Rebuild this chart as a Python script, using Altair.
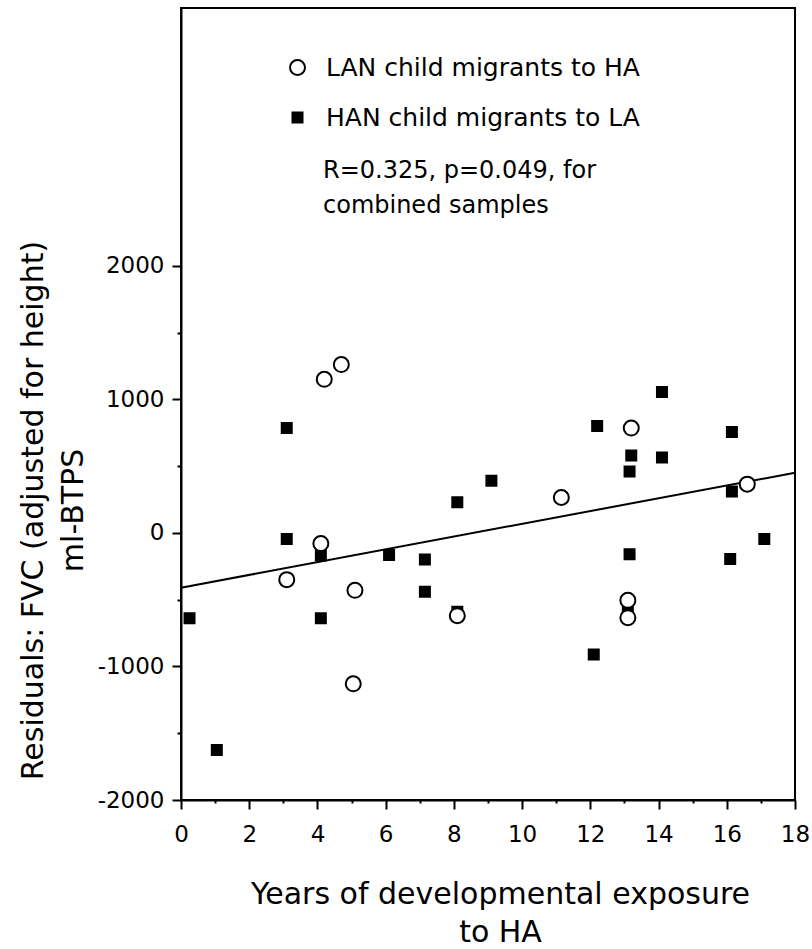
import altair as alt
import pandas as pd

# ---- data ----
group_names = ["LAN child migrants to HA", "HAN child migrants to LA"]

lan_x = [4.2, 4.7, 4.1, 3.1, 5.1, 8.1, 5.05, 11.15, 13.2, 16.6, 13.1, 13.1]
lan_y = [1150, 1260, -80, -350, -430, -620, -1130, 265, 785, 365, -505, -635]

han_x = [3.1, 3.1, 4.1, 6.1, 7.15, 8.1, 9.1, 14.1, 12.2, 16.15, 13.2, 14.1,
         13.15, 16.15, 17.1, 13.15, 16.1, 13.1, 8.1, 7.15, 0.25, 4.1, 1.05, 12.1]
han_y = [785, -45, -170, -165, -200, 230, 390, 1055, 800, 755, 580, 565,
         460, 310, -45, -160, -195, -565, -590, -440, -640, -640, -1625, -910]

fit_x = [0, 18]
fit_y = [-410, 450]

x_ticks = list(range(0, 19))
y_ticks = list(range(-2000, 2001, 500))

x_title = ["Years of developmental exposure", "to HA"]
y_title = ["Residuals:  FVC (adjusted for height)", "ml-BTPS"]
note_lines = ["R=0.325, p=0.049, for", "combined samples"]

# ---- tables ----
pts = pd.DataFrame({
    "years": han_x + lan_x,
    "resid": han_y + lan_y,
    "group": [group_names[1]] * len(han_x) + [group_names[0]] * len(lan_x),
})
fit = pd.DataFrame({"years": fit_x, "resid": fit_y})
note_df = pd.DataFrame({"row": [0]})

FONT = "DejaVu Sans"

x_scale = alt.Scale(domain=[0, 18], nice=False, zero=False)
y_scale = alt.Scale(domain=[-2000, 3930], nice=False, zero=False)

x_axis = alt.Axis(
    values=x_ticks, title=x_title, grid=False,
    labelExpr="datum.value % 2 === 0 ? '' + datum.value : ''",
    tickSize={"condition": {"test": "datum.value % 2 === 0", "value": 9}, "value": 3},
    tickWidth=2, tickColor="black", domainColor="black", domainWidth=2,
    labelFont=FONT, labelFontSize=23, labelColor="black", labelPadding=14,
    labelFlush=False, labelOverlap=False,
    titleFont=FONT, titleFontSize=30, titleFontWeight="normal", titleColor="black",
    titleX=319, titleY=103, titleAlign="center", titleBaseline="alphabetic",
    titleLineHeight=38,
)
y_axis = alt.Axis(
    values=y_ticks, title=y_title, grid=False,
    labelExpr="datum.value % 1000 === 0 ? '' + datum.value : ''",
    tickSize={"condition": {"test": "datum.value % 1000 === 0", "value": 9}, "value": 4},
    tickWidth=2, tickColor="black", domainColor="black", domainWidth=2,
    labelFont=FONT, labelFontSize=23, labelColor="black", labelPadding=8,
    labelFlush=False, labelOverlap=False,
    titleFont=FONT, titleFontSize=30, titleFontWeight="normal", titleColor="black",
    titleAngle=270, titleX=-163, titleY=502, titleAlign="center", titleBaseline="top",
    titleLineHeight=40,
)

leg = alt.Legend(
    orient="none", legendX=104, legendY=47, title=None, padding=0,
    labelFont=FONT, labelFontSize=25, labelColor="black", labelOffset=16,
    labelLimit=0, rowPadding=24, symbolStrokeColor="black", symbolStrokeWidth=2,
)

line = alt.Chart(fit).mark_line(color="black", strokeWidth=2).encode(
    x=alt.X("years:Q", scale=x_scale, axis=x_axis),
    y=alt.Y("resid:Q", scale=y_scale, axis=y_axis),
)

points = alt.Chart(pts).mark_point(
    filled=True, strokeWidth=2, opacity=1
).encode(
    x=alt.X("years:Q", scale=x_scale, axis=x_axis),
    y=alt.Y("resid:Q", scale=y_scale, axis=y_axis),
    shape=alt.Shape("group:N", scale=alt.Scale(domain=group_names, range=["circle", "square"]), legend=leg),
    fill=alt.Fill("group:N", scale=alt.Scale(domain=group_names, range=["white", "black"]), legend=leg),
    stroke=alt.Stroke("group:N", scale=alt.Scale(domain=group_names, range=["black", "black"]), legend=leg),
    size=alt.Size("group:N", scale=alt.Scale(domain=group_names, range=[225, 100]), legend=leg),
    order=alt.Order("group:N", sort="ascending"),
)

note = alt.Chart(note_df).mark_text(
    text=note_lines, align="left", baseline="alphabetic", font=FONT,
    fontSize=24, lineHeight=35, color="black",
).encode(x=alt.value(142), y=alt.value(170))

chart = alt.layer(line, points, note).properties(
    width=614, height=792,
    padding={"left": 181, "top": 8, "right": 17, "bottom": 149},
    autosize=alt.AutoSizeParams(type="none"),
    background="white",
).configure_view(stroke="black", strokeWidth=2)

chart.save("out.html", embed_options={"renderer": "svg", "actions": False})
